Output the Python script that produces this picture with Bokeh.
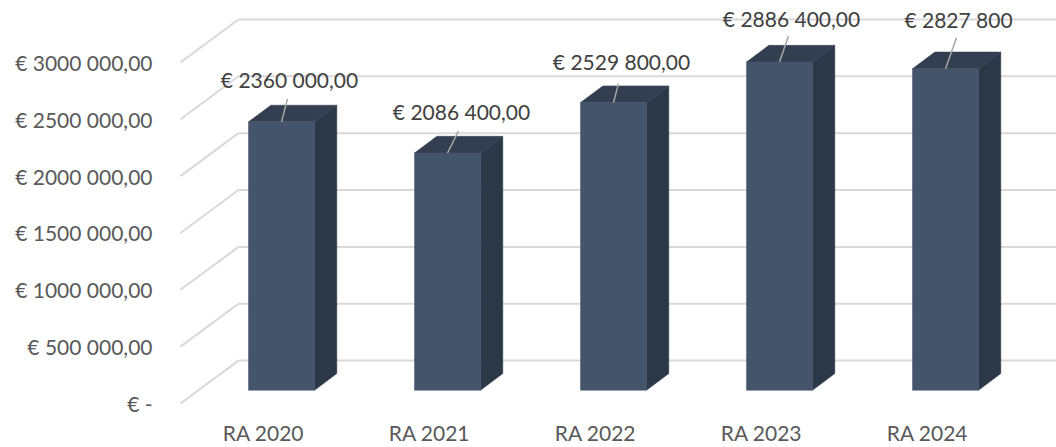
from bokeh.plotting import figure
from bokeh.models import FixedTicker
from bokeh.core.properties import value
from bokeh.embed import file_html
from bokeh.resources import INLINE

# Data
categories = ["RA 2020", "RA 2021", "RA 2022", "RA 2023", "RA 2024"]
amounts = [2360000, 2086400, 2529800, 2886400, 2827800]
amount_labels = ["€ 2360 000,00", "€ 2086 400,00", "€ 2529 800,00", "€ 2886 400,00", "€ 2827 800"]
y_ticks = [0, 500000, 1000000, 1500000, 2000000, 2500000, 3000000]
y_tick_labels = ["€ -", "€ 500 000,00", "€ 1000 000,00", "€ 1500 000,00", "€ 2000 000,00", "€ 2500 000,00", "€ 3000 000,00"]

# Layout (pixels of the page)
W, H = 1056, 447
FRAME_L, FRAME_R, FRAME_T, FRAME_B = 160, 1056, 0, 412
PX_X = 166.0            # pixels per category
PX_V = 342.0 / 3e6      # pixels per euro
X0 = 263.0              # page x of first category tick
Y0 = 404.0              # page y of value 0 on the axis
ux = lambda px: px / PX_X
uv = lambda px: px / PX_V

# oblique depth
WALL_DX, WALL_DV = ux(58), uv(43)
FLOOR_DV = uv(13.3)
BAR_SHIFT = ux(18)
BAR_HALF = ux(33)
BAR_DX, BAR_DV = ux(22.3), uv(16.7)
GRID_LEFT = ux(180 - X0)
GRID_RIGHT = ux(1056 - X0)

p = figure(width=W, height=H, output_backend="svg", toolbar_location=None,
           x_range=(ux(FRAME_L - X0), ux(FRAME_R - X0)),
           y_range=(uv(Y0 - FRAME_B), uv(Y0 - FRAME_T)),
           min_border_left=FRAME_L, min_border_right=0, min_border_top=0,
           min_border_bottom=H - FRAME_B, outline_line_color=None,
           background_fill_color="white", border_fill_color="white")
p.grid.visible = False

# Walls: back gridlines and oblique floor/side lines
grid_col, grid_w = "#D9D9D9", 2
p.segment(x0=[GRID_LEFT] * len(y_ticks), y0=y_ticks,
          x1=[GRID_LEFT + WALL_DX] * len(y_ticks), y1=[t + WALL_DV for t in y_ticks],
          line_color=grid_col, line_width=grid_w)
p.segment(x0=[GRID_LEFT + WALL_DX] * len(y_ticks), y0=[t + WALL_DV for t in y_ticks],
          x1=[GRID_RIGHT] * len(y_ticks), y1=[t + WALL_DV for t in y_ticks],
          line_color=grid_col, line_width=grid_w)

# Bars
base = FLOOR_DV
front_x, front_y, top_x, top_y, side_x, side_y = [], [], [], [], [], []
for i, a in enumerate(amounts):
    l, r = i + BAR_SHIFT - BAR_HALF, i + BAR_SHIFT + BAR_HALF
    t = base + a
    front_x.append([l, r, r, l]); front_y.append([base, base, t, t])
    top_x.append([l, r, r + BAR_DX, l + BAR_DX]); top_y.append([t, t, t + BAR_DV, t + BAR_DV])
    side_x.append([r, r + BAR_DX, r + BAR_DX, r]); side_y.append([base, base + BAR_DV, t + BAR_DV, t])
p.patches(side_x, side_y, fill_color="#2B3848", line_color="#2B3848", line_width=0.5)
p.patches(top_x, top_y, fill_color="#333F50", line_color="#333F50", line_width=0.5)
p.patches(front_x, front_y, fill_color="#44546A", line_color="#44546A", line_width=0.5)

# Leader lines and data labels: offsets from each bar's top-front centre
leader_dx = [6, 11, 5, 9, 11]
leader_dy = [23, 22, 19, 26, 31]
label_dx = [8, 14, 8, 12, 13]
label_dy = [42, 42, 41, 44, 49]
tops = [base + a for a in amounts]
cx = [i + BAR_SHIFT for i in range(len(amounts))]
p.segment(x0=cx, y0=tops, x1=[c + ux(d) for c, d in zip(cx, leader_dx)],
          y1=[t + uv(d) for t, d in zip(tops, leader_dy)],
          line_color="#A6A6A6", line_width=1.5)
p.text(x=[c + ux(d) for c, d in zip(cx, label_dx)],
       y=[t + uv(d) for t, d in zip(tops, label_dy)], text=amount_labels,
       text_align="center", text_baseline="middle", text_color="#404040",
       text_font=value("Lato"), text_font_size="21px")

# Axes
xa, ya = p.xaxis[0], p.yaxis[0]
ya.ticker = FixedTicker(ticks=y_ticks)
ya.major_label_overrides = {t: s for t, s in zip(y_ticks, y_tick_labels)}
xa.ticker = FixedTicker(ticks=list(range(len(categories))))
xa.major_label_overrides = {i: s for i, s in enumerate(categories)}
for ax in (xa, ya):
    ax.axis_line_color = None
    ax.major_tick_line_color = None
    ax.minor_tick_line_color = None
    ax.major_tick_out = 0
    ax.major_tick_in = 0
    ax.minor_tick_out = 0
    ax.minor_tick_in = 0
    ax.major_label_text_font = "Lato"
    ax.major_label_text_font_size = "21px"
    ax.major_label_text_color = "#595959"
    ax.major_label_text_line_height = 1.0
ya.major_label_standoff = 8
xa.major_label_standoff = 8

open("out.html", "w").write(file_html(p, INLINE))
